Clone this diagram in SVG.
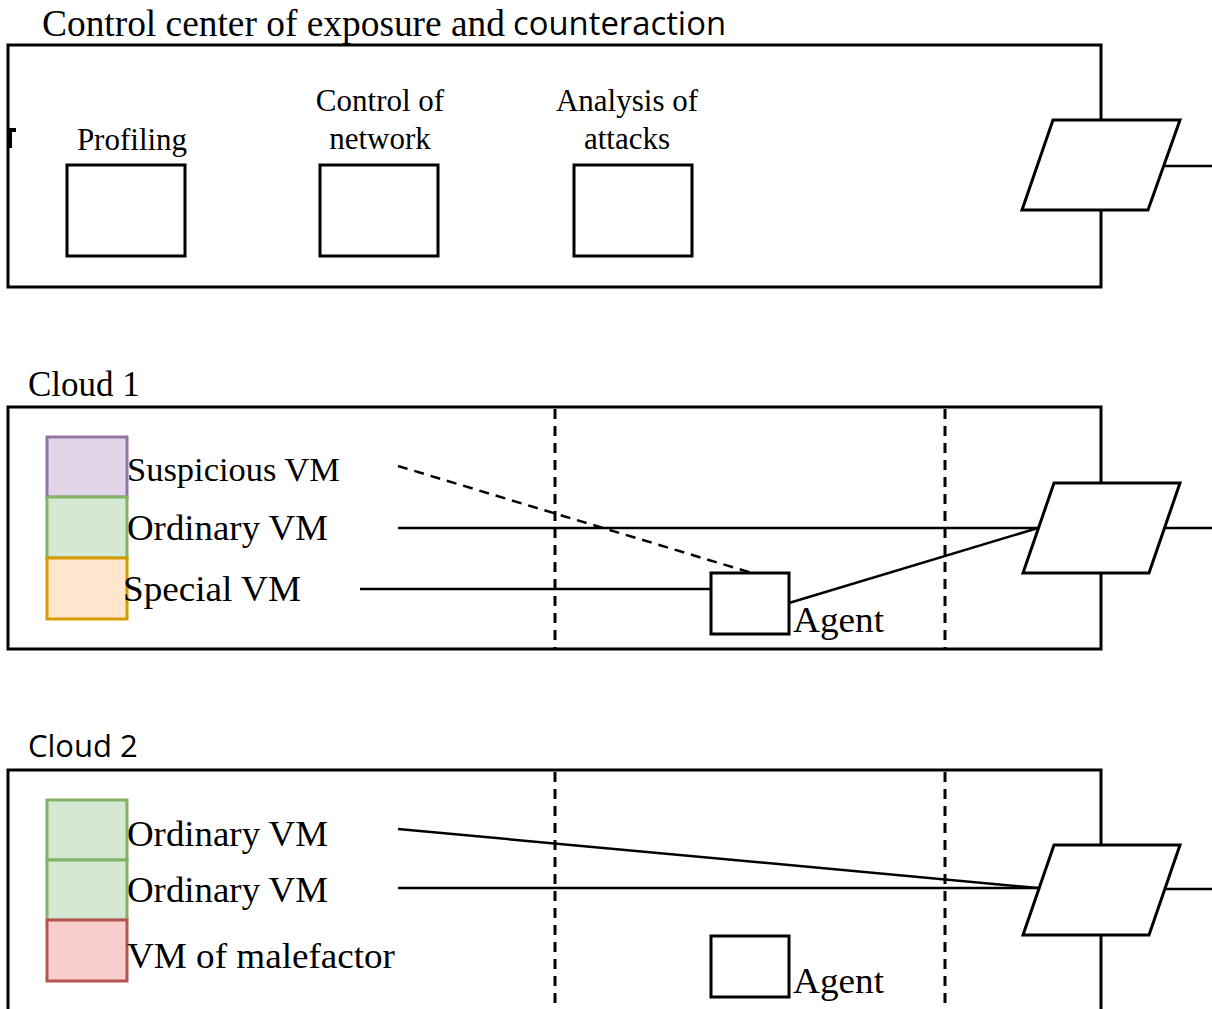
<svg xmlns="http://www.w3.org/2000/svg" width="1212" height="1009" viewBox="0 0 1212 1009">
<style>
.frame{fill:none;stroke:#000;stroke-width:3}
.box{fill:#fff;stroke:#000;stroke-width:3}
.para{fill:#fff;stroke:#000;stroke-width:3;stroke-linejoin:miter}
.ln{fill:none;stroke:#000;stroke-width:2.5}
.dash{fill:none;stroke:#000;stroke-width:3;stroke-dasharray:10 7}
.sdash{fill:none;stroke:#000;stroke-width:2.5;stroke-dasharray:10 7}
.serif{font-family:"Liberation Serif","Times New Roman",serif;fill:#000}
.sans{font-family:"Open Sans","Liberation Sans",sans-serif;fill:#000}
.susp{fill:#e1d5e7;stroke:#9673a6;stroke-width:3}
.ord{fill:#d5e8d4;stroke:#82b366;stroke-width:3}
.spec{fill:#ffe6cc;stroke:#d79b00;stroke-width:3}
.mal{fill:#f8cecc;stroke:#b85450;stroke-width:3}
</style>

<!-- Control center -->
<g id="control-center">
  <text class="serif" x="42" y="36" font-size="37" textLength="463" lengthAdjust="spacingAndGlyphs">Control center of exposure and</text>
  <text class="sans" x="513" y="35" font-size="32" textLength="213" lengthAdjust="spacingAndGlyphs">counteraction</text>
  <path class="frame" d="M1101 120 V45 H8 V287 H1101 V210"/>
  <path d="M10 129 V148 M9 130 H16" fill="none" stroke="#000" stroke-width="4"/>
</g>
<g id="profiling">
  <rect class="box" x="67" y="165" width="118" height="91"/>
  <text class="serif" x="132" y="150" font-size="31" text-anchor="middle">Profiling</text>
</g>
<g id="control-network">
  <rect class="box" x="320" y="165" width="118" height="91"/>
  <text class="serif" x="380" y="111" font-size="31" text-anchor="middle">Control of</text>
  <text class="serif" x="380" y="149" font-size="31" text-anchor="middle">network</text>
</g>
<g id="analysis-attacks">
  <rect class="box" x="574" y="165" width="118" height="91"/>
  <text class="serif" x="627" y="111" font-size="31" text-anchor="middle">Analysis of</text>
  <text class="serif" x="627" y="149" font-size="31" text-anchor="middle">attacks</text>
</g>

<!-- Cloud 1 -->
<g id="cloud1">
  <text class="serif" x="28" y="396" font-size="35">Cloud 1</text>
  <path class="frame" d="M1101 483 V407 H8 V649 H1101 V573"/>
  <line class="dash" x1="555" y1="409" x2="555" y2="648"/>
  <line class="dash" x1="945" y1="409" x2="945" y2="648"/>
</g>
<g id="cloud1-suspicious-vm">
  <rect class="susp" x="47" y="437" width="80" height="60"/>
  <text class="serif" x="127" y="481" font-size="34" textLength="213" lengthAdjust="spacingAndGlyphs">Suspicious VM</text>
</g>
<g id="cloud1-ordinary-vm">
  <rect class="ord" x="47" y="497" width="80" height="61"/>
  <text class="serif" x="127" y="540" font-size="35" textLength="201" lengthAdjust="spacingAndGlyphs">Ordinary VM</text>
</g>
<g id="cloud1-special-vm">
  <rect class="spec" x="47" y="558" width="80" height="61"/>
  <text class="serif" x="123" y="601" font-size="35" textLength="178" lengthAdjust="spacingAndGlyphs">Special VM</text>
</g>
<g id="cloud1-agent">
  <rect class="box" x="711" y="573" width="78" height="61"/>
  <text class="serif" x="793" y="632" font-size="35" textLength="91" lengthAdjust="spacingAndGlyphs">Agent</text>
</g>

<!-- Cloud 2 -->
<g id="cloud2">
  <text class="sans" x="28" y="757" font-size="31">Cloud 2</text>
  <path class="frame" d="M1101 845 V770 H8 V1015 M1101 935 V1015"/>
  <line class="dash" x1="555" y1="772" x2="555" y2="1012"/>
  <line class="dash" x1="945" y1="772" x2="945" y2="1012"/>
</g>
<g id="cloud2-ordinary-vm-1">
  <rect class="ord" x="47" y="800" width="80" height="60"/>
  <text class="serif" x="127" y="846" font-size="35" textLength="201" lengthAdjust="spacingAndGlyphs">Ordinary VM</text>
</g>
<g id="cloud2-ordinary-vm-2">
  <rect class="ord" x="47" y="860" width="80" height="60"/>
  <text class="serif" x="127" y="902" font-size="35" textLength="201" lengthAdjust="spacingAndGlyphs">Ordinary VM</text>
</g>
<g id="cloud2-malefactor-vm">
  <rect class="mal" x="47" y="920" width="80" height="61"/>
  <text class="serif" x="127" y="968" font-size="35" textLength="268" lengthAdjust="spacingAndGlyphs">VM of malefactor</text>
</g>
<g id="cloud2-agent">
  <rect class="box" x="711" y="936" width="78" height="61"/>
  <text class="serif" x="793" y="993" font-size="35" textLength="91" lengthAdjust="spacingAndGlyphs">Agent</text>
</g>

<!-- Connectors -->
<g id="connectors">
  <line class="ln" x1="1165" y1="166" x2="1212" y2="166"/>
  <line class="ln" x1="398" y1="528" x2="1038" y2="528"/>
  <line class="ln" x1="1165" y1="528" x2="1212" y2="528"/>
  <line class="ln" x1="360" y1="589" x2="711" y2="589"/>
  <line class="ln" x1="789" y1="603" x2="1038" y2="528"/>
  <line class="sdash" x1="398" y1="466" x2="752" y2="573"/>
  <line class="ln" x1="398" y1="829" x2="1038" y2="888"/>
  <line class="ln" x1="398" y1="888" x2="1038" y2="888"/>
  <line class="ln" x1="1165" y1="889" x2="1212" y2="889"/>
</g>

<!-- Gateways -->
<g id="gateway-control">
  <polygon class="para" points="1053,120 1180,120 1148,210 1022,210"/>
</g>
<g id="gateway-cloud1">
  <polygon class="para" points="1054,483 1180,483 1149,573 1023,573"/>
</g>
<g id="gateway-cloud2">
  <polygon class="para" points="1054,845 1180,845 1149,935 1023,935"/>
</g>
</svg>
